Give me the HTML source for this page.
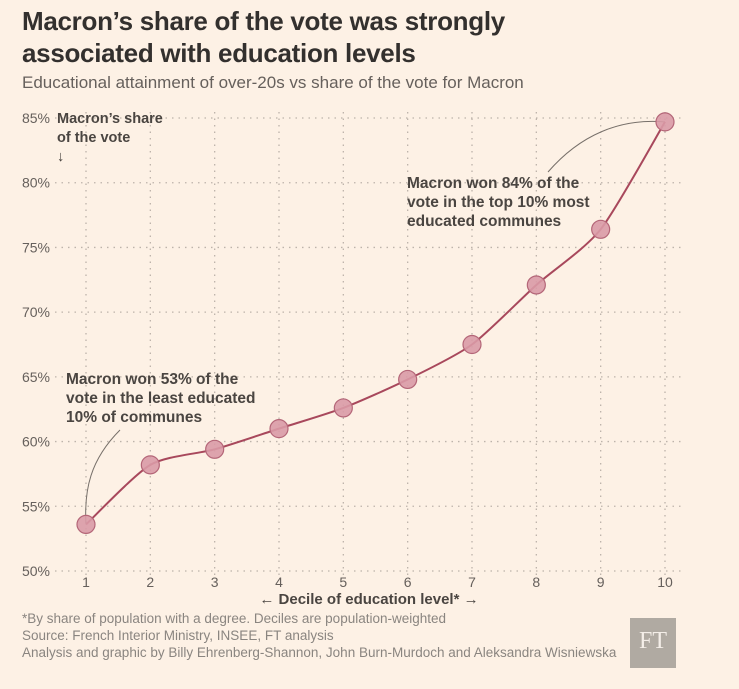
<!DOCTYPE html>
<html><head><meta charset="utf-8"><style>
body{margin:0;background:#fdf1e5;font-family:"Liberation Sans",sans-serif;}
#wrap{position:relative;width:739px;height:689px;overflow:hidden;background:#fdf1e5;}
h1{position:absolute;left:22px;top:5px;margin:0;font-size:26px;line-height:32px;font-weight:bold;color:#33302e;letter-spacing:-0.3px;}
.sub{position:absolute;left:22px;top:73px;font-size:17px;color:#66605c;}
.foot{position:absolute;left:22px;font-size:13.5px;color:#8a8580;}
#ft{position:absolute;left:630px;top:618px;width:46px;height:50px;background:#b0aaa2;color:#f4eee8;font-family:"Liberation Serif",serif;font-size:24px;text-align:center;line-height:46px;}
</style></head><body>
<div id="wrap">
<h1>Macron’s share of the vote was strongly<br>associated with education levels</h1>
<div class="sub">Educational attainment of over-20s vs share of the vote for Macron</div>
<svg id="chart" width="739" height="689" style="position:absolute;left:0;top:0"></svg>
<div class="foot" style="top:611px">*By share of population with a degree. Deciles are population-weighted</div>
<div class="foot" style="top:628px">Source: French Interior Ministry, INSEE, FT analysis</div>
<div class="foot" style="top:645px">Analysis and graphic by Billy Ehrenberg-Shannon, John Burn-Murdoch and Aleksandra Wisniewska</div>
<div id="ft">FT</div>
</div>
<script>
const deciles=[1,2,3,4,5,6,7,8,9,10];
const shares=[53.6,58.2,59.4,61.0,62.6,64.8,67.5,72.1,76.4,84.7];
const yTicks=[50,55,60,65,70,75,80,85];
const NS="http://www.w3.org/2000/svg";
const svg=document.getElementById('chart');
const x=d=>86+(d-1)*(665-86)/9;
const y=v=>571-(v-50)*(571-118)/35;
function mk(t,a,p){const e=document.createElementNS(NS,t);for(const k in a)e.setAttribute(k,a[k]);(p||svg).appendChild(e);return e;}
yTicks.forEach(v=>{
 const l=mk('line',{x1:55,x2:682,y1:y(v),y2:y(v),stroke:'#bdb3aa','stroke-dasharray':'1.5 5','stroke-width':1.3});
 
 
 const t=mk('text',{x:50,y:y(v)+5,'text-anchor':'end','font-size':14,fill:'#66605c'});
 t.textContent=v+'%';
 
 
});
deciles.forEach(d=>{
 const l=mk('line',{x1:x(d),x2:x(d),y1:112,y2:575,stroke:'#bdb3aa','stroke-dasharray':'1.5 5','stroke-width':1.3});
 
 
 const t=mk('text',{x:x(d),y:587,'text-anchor':'middle','font-size':14,fill:'#66605c'});
 t.textContent=d;
 
 
});
const P=deciles.map((d,i)=>[x(d),y(shares[i])]);
let dstr='M'+P[0][0]+','+P[0][1];
for(let i=0;i<P.length-1;i++){
 const p0=P[Math.max(0,i-1)],p1=P[i],p2=P[i+1],p3=P[Math.min(P.length-1,i+2)];
 const k=0.12;
 dstr+=` C${p1[0]+(p2[0]-p0[0])*k},${p1[1]+(p2[1]-p0[1])*k} ${p2[0]-(p3[0]-p1[0])*k},${p2[1]-(p3[1]-p1[1])*k} ${p2[0]},${p2[1]}`;
}
const c1=mk('path',{d:`M${x(1)},${y(shares[0])} C84,490 90,460 120,430`,fill:'none',stroke:'#77706a','stroke-width':1});


const c2=mk('path',{d:`M${x(10)},${y(shares[9])} C620,118 580,135 548,172`,fill:'none',stroke:'#77706a','stroke-width':1});


const line=mk('path',{d:dstr,fill:'none',stroke:'#a8485c','stroke-width':2});


P.forEach((p,i)=>{
 const c=mk('circle',{cx:p[0],cy:p[1],r:9,fill:'#d99aa6',stroke:'#b46678','stroke-width':1.2,'fill-opacity':0.9});
 
 
});
function txt(lines,x0,y0,name,size,lh){
 const t=mk('text',{x:x0,y:y0,'font-size':size,'font-weight':'bold',fill:'#4a4541'});
 lines.forEach((s,i)=>{const ts=mk('tspan',{x:x0,dy:i?lh:0},t);ts.textContent=s;});
 
 
}
txt(['Macron’s share','of the vote','↓'],57,123,'y-axis-title',14.5,19);
txt(['Macron won 84% of the','vote in the top 10% most','educated communes'],407,188,'annotation-high',15.5,19);
txt(['Macron won 53% of the','vote in the least educated','10% of communes'],66,384,'annotation-low',15.5,19);
const xt=mk('text',{x:369,y:604,'text-anchor':'middle','font-size':15,'font-weight':'bold',fill:'#4a4541'});
xt.textContent='← Decile of education level* →';


</script>
</body></html>
